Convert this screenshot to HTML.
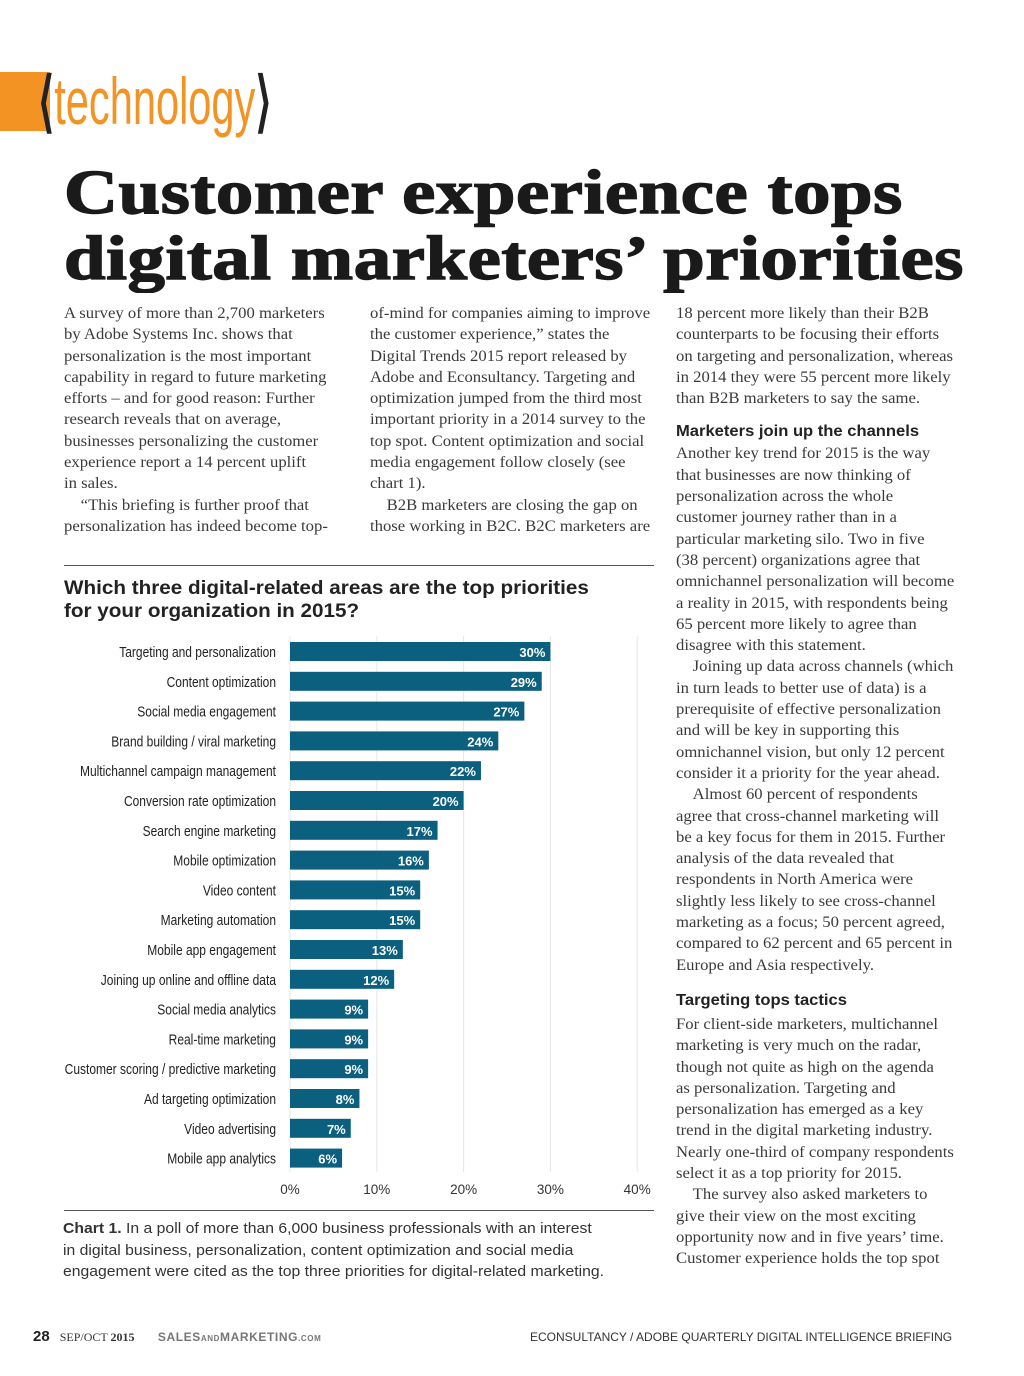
<!DOCTYPE html>
<html><head><meta charset="utf-8"><style>
body{margin:0;background:#fff;}
#page{position:relative;width:1024px;height:1376px;overflow:hidden;background:#fff;font-family:"Liberation Serif",serif;color:#333;}
.abs{position:absolute;}
.col{position:absolute;top:303px;font-size:15.3px;line-height:21.3px;color:#3a3a3a;white-space:nowrap;transform:scaleX(1.09);transform-origin:left top;}
h3{margin:3px 0 1px;font-family:"Liberation Sans",sans-serif;font-size:16px;color:#222;line-height:21px;transform:scaleX(0.95);transform-origin:left;}
.lbl{font-family:"Liberation Sans",sans-serif;font-size:15px;fill:#222;}
.val{font-family:"Liberation Sans",sans-serif;font-size:13px;font-weight:bold;fill:#fff;}
.tick{font-family:"Liberation Sans",sans-serif;font-size:13.5px;fill:#333;}
</style></head><body>
<div id="page">
<div class="abs" style="left:0;top:72px;width:50px;height:59px;background:#f39323;"></div>
<div class="abs" style="left:38px;top:60px;font-family:'Liberation Sans',sans-serif;font-size:66px;line-height:82px;transform:scaleX(0.63);transform-origin:left;white-space:nowrap;"><span style="color:#222;font-weight:bold">⟨</span><span style="color:#f39323">technology</span><span style="color:#222;font-weight:bold">⟩</span></div>
<div class="abs" style="left:64px;top:160px;font-family:'Liberation Serif',serif;font-weight:bold;font-size:62px;line-height:66px;color:#1a1a1a;white-space:nowrap;letter-spacing:0.5px;transform:scaleX(1.205);transform-origin:left;-webkit-text-stroke:1.4px #1a1a1a;">Customer experience tops<br>digital marketers’ priorities</div>

<div class="col" style="left:64px;">
A survey of more than 2,700 marketers<br>by Adobe Systems Inc. shows that<br>personalization is the most important<br>capability in regard to future marketing<br>efforts – and for good reason: Further<br>research reveals that on average,<br>businesses personalizing the customer<br>experience report a 14 percent uplift<br>in sales.<br>&nbsp;&nbsp;&nbsp;&nbsp;“This briefing is further proof that<br>personalization has indeed become top-</div>
<div class="col" style="left:370px;">
of-mind for companies aiming to improve<br>the customer experience,” states the<br>Digital Trends 2015 report released by<br>Adobe and Econsultancy. Targeting and<br>optimization jumped from the third most<br>important priority in a 2014 survey to the<br>top spot. Content optimization and social<br>media engagement follow closely (see<br>chart 1).<br>&nbsp;&nbsp;&nbsp;&nbsp;B2B marketers are closing the gap on<br>those working in B2C. B2C marketers are</div>
<div class="col" style="left:676px;">
18 percent more likely than their B2B<br>counterparts to be focusing their efforts<br>on targeting and personalization, whereas<br>in 2014 they were 55 percent more likely<br>than B2B marketers to say the same.
<h3 style="margin-top:12px">Marketers join up the channels</h3>
Another key trend for 2015 is the way<br>that businesses are now thinking of<br>personalization across the whole<br>customer journey rather than in a<br>particular marketing silo. Two in five<br>(38 percent) organizations agree that<br>omnichannel personalization will become<br>a reality in 2015, with respondents being<br>65 percent more likely to agree than<br>disagree with this statement.<br>&nbsp;&nbsp;&nbsp;&nbsp;Joining up data across channels (which<br>in turn leads to better use of data) is a<br>prerequisite of effective personalization<br>and will be key in supporting this<br>omnichannel vision, but only 12 percent<br>consider it a priority for the year ahead.<br>&nbsp;&nbsp;&nbsp;&nbsp;Almost 60 percent of respondents<br>agree that cross-channel marketing will<br>be a key focus for them in 2015. Further<br>analysis of the data revealed that<br>respondents in North America were<br>slightly less likely to see cross-channel<br>marketing as a focus; 50 percent agreed,<br>compared to 62 percent and 65 percent in<br>Europe and Asia respectively.
<h3 style="margin-top:14px;margin-bottom:3px">Targeting tops tactics</h3>
For client-side marketers, multichannel<br>marketing is very much on the radar,<br>though not quite as high on the agenda<br>as personalization. Targeting and<br>personalization has emerged as a key<br>trend in the digital marketing industry.<br>Nearly one-third of company respondents<br>select it as a top priority for 2015.<br>&nbsp;&nbsp;&nbsp;&nbsp;The survey also asked marketers to<br>give their view on the most exciting<br>opportunity now and in five years’ time.<br>Customer experience holds the top spot</div>

<div class="abs" style="left:64px;top:565px;width:590px;height:1px;background:#555;"></div>
<div class="abs" style="left:64px;top:577px;font-family:'Liberation Sans',sans-serif;font-weight:bold;font-size:19.5px;line-height:23px;color:#222;transform:scaleX(1.06);transform-origin:left;white-space:nowrap;">Which three digital-related areas are the top priorities<br>for your organization in 2015?</div>
<svg class="abs" style="left:0;top:0" width="1024" height="1376" id="chart"></svg>
<div class="abs" style="left:64px;top:1210px;width:590px;height:1px;background:#555;"></div>
<div class="abs" style="left:63px;top:1218px;font-family:'Liberation Sans',sans-serif;font-size:15px;line-height:21.5px;color:#333;white-space:nowrap;transform:scaleX(1.05);transform-origin:left;"><b>Chart 1.</b> In a poll of more than 6,000 business professionals with an interest<br>in digital business, personalization, content optimization and social media<br>engagement were cited as the top three priorities for digital-related marketing.</div>

<div class="abs" style="left:33px;top:1328px;font-family:'Liberation Sans',sans-serif;font-size:12px;white-space:nowrap;color:#333;"><b style="font-size:15px;color:#222">28</b>&nbsp;&nbsp; <span style="font-family:'Liberation Serif',serif">SEP/OCT <b>2015</b></span>&nbsp;&nbsp;&nbsp;&nbsp;&nbsp;&nbsp; <span style="color:#777;letter-spacing:0.6px;font-weight:bold">SALES<span style="font-size:8px">AND</span>MARKETING<span style="font-size:8px">.COM</span></span></div>
<div class="abs" style="left:530px;top:1330px;font-family:'Liberation Sans',sans-serif;font-size:12px;color:#333;white-space:nowrap;">ECONSULTANCY / ADOBE QUARTERLY DIGITAL INTELLIGENCE BRIEFING</div>
</div>
<script>
const categories=["Targeting and personalization","Content optimization","Social media engagement","Brand building / viral marketing","Multichannel campaign management","Conversion rate optimization","Search engine marketing","Mobile optimization","Video content","Marketing automation","Mobile app engagement","Joining up online and offline data","Social media analytics","Real-time marketing","Customer scoring / predictive marketing","Ad targeting optimization","Video advertising","Mobile app analytics"];
const values=[30,29,27,24,22,20,17,16,15,15,13,12,9,9,9,8,7,6];
const tickValues=[0,10,20,30,40];
const tickLabels=["0%","10%","20%","30%","40%"];
const NS="http://www.w3.org/2000/svg";
const svg=document.getElementById('chart');
const x=v=>290+v*8.68;
const y=i=>642+i*29.8;
function mk(t,a){const e=document.createElementNS(NS,t);for(const k in a)e.setAttribute(k,a[k]);svg.appendChild(e);return e;}
tickValues.forEach((v,i)=>{
 const g=mk('line',{x1:x(v),x2:x(v),y1:636,y2:1172,stroke:'#e6e6e6','stroke-width':1});
 
 
 const t=mk('text',{x:x(v),y:1194,'text-anchor':'middle',class:'tick'});t.textContent=tickLabels[i];
 
 
});
categories.forEach((c,i)=>{
 const r=mk('rect',{x:x(0),y:y(i),width:x(values[i])-x(0),height:19,fill:'#0b5f7f'});
 
 
 const l=mk('text',{x:276,y:y(i)+15,'text-anchor':'end',class:'lbl',transform:`translate(276 0) scale(0.8 1) translate(-276 0)`});l.textContent=c;
 
 
 const v=mk('text',{x:x(values[i])-5,y:y(i)+15,'text-anchor':'end',class:'val'});v.textContent=values[i]+'%';
 
 
});
</script>
</body></html>
